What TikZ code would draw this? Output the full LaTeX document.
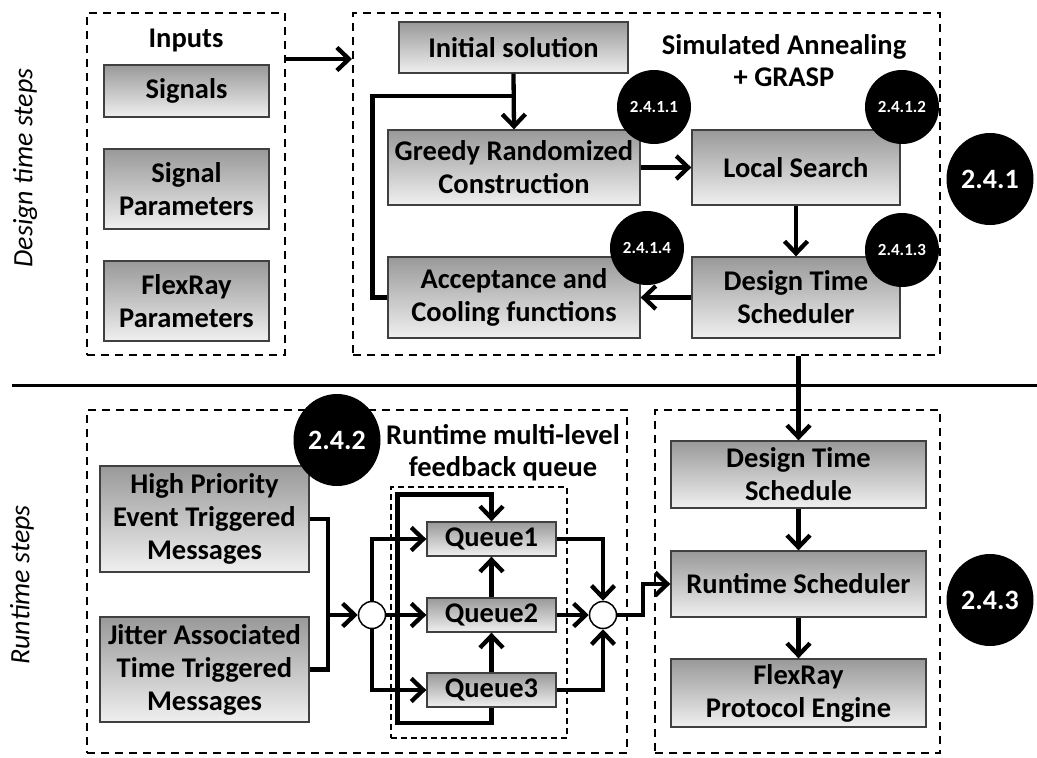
\documentclass[tikz,border=0pt]{standalone}
\usepackage{fontspec}
\setmainfont{Carlito}
\usetikzlibrary{arrows.meta,calc,shapes.geometric}
\begin{document}
\begin{tikzpicture}[x=1pt,y=-1pt,
  box/.style={draw=black!75, line width=1.3pt, top color=black!40, bottom color=black!6,
    font=\bfseries\fontsize{28.5}{33}\selectfont, align=center, inner sep=0pt},
  dbox/.style={draw, line width=2pt, dash pattern=on 8pt off 6pt, inner sep=0pt},
  thindbox/.style={draw, line width=1.3pt, dash pattern=on 6pt off 4pt, inner sep=0pt},
  title/.style={font=\bfseries\fontsize{28.5}{32}\selectfont, align=center, inner sep=0pt},
  side/.style={rotate=90, font=\itshape\fontsize{28}{28}\selectfont, inner sep=0pt},
  tag/.style={circle, fill=black, text=white, font=\bfseries\fontsize{17}{17}\selectfont,
    minimum size=74pt, inner sep=0pt},
  bigtag/.style={ellipse, fill=black, text=white, font=\bfseries\fontsize{28}{28}\selectfont,
    minimum width=87pt, minimum height=92pt, inner sep=0pt},
  junction/.style={circle, draw, fill=white, line width=1.5pt, minimum size=27pt, inner sep=0pt},
  line/.style={line width=4.3pt},
  arr/.style={line width=4.3pt, -{Straight Barb[length=12pt,width=23pt]}},
]
\path[use as bounding box] (0,0) rectangle (1037,758);

% side labels
\node[side] (lbldesign) at (25,168) {Design time steps};
\node[side] (lblrun) at (22,585) {Runtime steps};

% separator between design time and runtime
\coordinate (sepL) at (12,385);
\coordinate (sepR) at (1037,385);
\draw[line width=3pt] (sepL) -- (sepR);

% dashed group frames
\node[dbox, minimum width=198pt, minimum height=342pt] (inputs) at (186,184) {};
\node[dbox, minimum width=587pt, minimum height=342pt] (sa) at (646.5,184) {};
\node[dbox, minimum width=540pt, minimum height=343pt] (rtq) at (357,581.5) {};
\node[dbox, minimum width=285pt, minimum height=343pt] (rts) at (797.5,581.5) {};
\node[thindbox, minimum width=176pt, minimum height=251pt] (inner) at (479,612.5) {};

% titles
\node[title] (inputstitle) at (186,40) {Inputs};
\node[title] (satitle) at (784,61) {Simulated Annealing\\+ GRASP};
\node[title] (rtqtitle) at (503,453) {Runtime multi-level\\feedback queue};

% inputs
\node[box, minimum width=165pt, minimum height=52pt] (sig) at (186.5,91) {Signals};
\node[box, minimum width=165pt, minimum height=80pt] (sigpar) at (186.5,189) {Signal\\Parameters};
\node[box, minimum width=165pt, minimum height=80pt] (frpar) at (186.5,301) {FlexRay\\Parameters};

% simulated annealing + GRASP
\node[box, minimum width=229pt, minimum height=51pt] (init) at (513.5,47.5) {Initial solution};
\node[box, minimum width=252pt, minimum height=75pt] (greedy) at (514,167.5) {Greedy Randomized\\Construction};
\node[box, minimum width=208pt, minimum height=75pt] (local) at (796,167.5) {Local Search};
\node[box, minimum width=252pt, minimum height=81pt] (accept) at (514,297.5) {Acceptance and\\Cooling functions};
\node[box, minimum width=208pt, minimum height=81pt] (dts) at (796,297.5) {Design Time\\Scheduler};

% runtime message sources
\node[box, minimum width=209pt, minimum height=106pt] (hp) at (204.5,519) {High Priority\\Event Triggered\\Messages};
\node[box, minimum width=209pt, minimum height=105pt] (jit) at (204.5,669.5) {Jitter Associated\\Time Triggered\\Messages};

% queues
\node[box, minimum width=129pt, minimum height=34pt] (q1) at (491.5,539) {Queue1};
\node[box, minimum width=129pt, minimum height=34pt] (q2) at (491.5,615) {Queue2};
\node[box, minimum width=129pt, minimum height=34pt] (q3) at (491.5,690) {Queue3};
\node[junction] (c1) at (372,615) {};
\node[junction] (c2) at (603,615) {};

% runtime scheduling chain
\node[box, minimum width=255pt, minimum height=67pt] (dtsched) at (798.5,474.5) {Design Time\\Schedule};
\node[box, minimum width=255pt, minimum height=66pt] (rtsched) at (798.5,584) {Runtime Scheduler};
\node[box, minimum width=255pt, minimum height=68pt] (fpe) at (798.5,693) {FlexRay\\Protocol Engine};

% design time connectors
\draw[arr] ([yshift=-47pt]inputs.north east) -- ([yshift=-47pt]sa.north west);
\coordinate (join) at ($(init.south)!0.4!(greedy.north)$);
\draw[arr] (init.south) -- (greedy.north);
\draw[line] (accept.west) -- ++(-15,0) |- (join);
\draw[arr] (greedy.east) -- (local.west);
\draw[arr] (local.south) -- (dts.north);
\draw[arr] (dts.west) -- (accept.east);
\draw[arr] (sa.south -| dtsched.north) -- (dtsched.north);

% runtime connectors
\draw[line] (hp.east) -- ++(18,0) coordinate (m1) -- (m1 |- jit.east) -- (jit.east);
\draw[arr] (m1 |- c1) -- (c1);
\draw[arr] (c1.north) |- (q1.west);
\draw[arr] (c1.east) -- (q2.west);
\draw[arr] (c1.south) |- (q3.west);
\draw[arr] (q2.north) -- (q1.south);
\draw[arr] (q3.north) -- (q2.south);
\draw[arr] (q3.south) -- ++(0,15) -| ([xshift=-29pt,yshift=27pt]q1.north west) -| (q1.north);
\draw[arr] (q1.east) -| (c2.north);
\draw[arr] (q2.east) -- (c2.west);
\draw[arr] (q3.east) -| (c2.south);
\draw[arr] (c2.east) -- ++(26,0) |- (rtsched.west);
\draw[arr] (dtsched.south) -- (rtsched.north);
\draw[arr] (rtsched.south) -- (fpe.north);

% section tags
\node[tag] (t1) at (654,107) {2.4.1.1};
\node[tag] (t2) at (902,107) {2.4.1.2};
\node[tag] (t3) at (902,250) {2.4.1.3};
\node[tag] (t4) at (647,248) {2.4.1.4};
\node[bigtag] (t241) at (990,179) {2.4.1};
\node[bigtag] (t242) at (337,440) {2.4.2};
\node[bigtag] (t243) at (990,600) {2.4.3};
\end{tikzpicture}
\end{document}
